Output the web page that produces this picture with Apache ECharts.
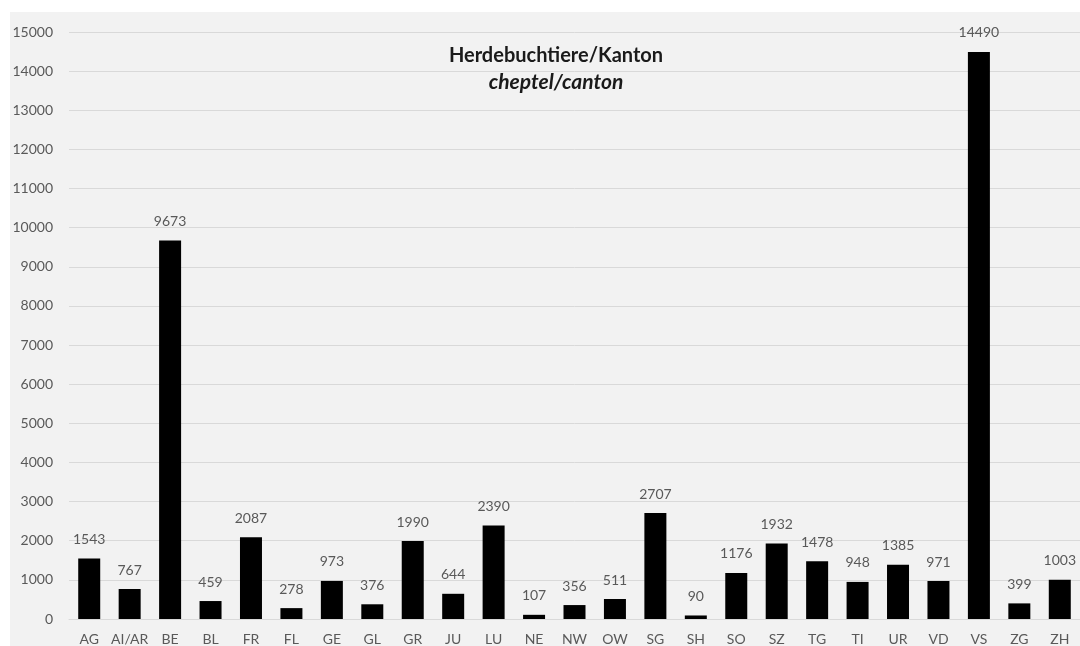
<!DOCTYPE html>
<html>
<head>
<meta charset="utf-8">
<script src="https://cdn.jsdelivr.net/npm/echarts@6/dist/echarts.min.js"></script>
<style>
  html, body { margin: 0; padding: 0; background: #fff; }
  #main { width: 1080px; height: 646px; }
</style>
</head>
<body>
<div id="main"></div>
<script>
// Kantone
const cantons = ['AG', 'AI/AR', 'BE', 'BL', 'FR', 'FL', 'GE', 'GL', 'GR', 'JU', 'LU', 'NE', 'NW',
  'OW', 'SG', 'SH', 'SO', 'SZ', 'TG', 'TI', 'UR', 'VD', 'VS', 'ZG', 'ZH']
// Herdebuchtiere pro Kanton
const herdCount = [1543, 767, 9673, 459, 2087, 278, 973, 376, 1990, 644, 2390, 107, 356,
  511, 2707, 90, 1176, 1932, 1478, 948, 1385, 971, 14490, 399, 1003]

const titleText = 'Herdebuchtiere/Kanton'
const subtitleText = 'cheptel/canton'

const font = 'Lato, "Open Sans", sans-serif'
const textColor = '#595959'

const chart = echarts.init(document.getElementById('main'))

const option = {
  backgroundColor: '#fff',
  animation: false,
  graphic: [
    {
      type: 'rect',
      z: -100,
      silent: true,
      shape: { x: 10, y: 12, width: 1070, height: 634 },
      style: { fill: '#f2f2f2' }
    }
  ],
  title: {
    text: titleText,
    subtext: subtitleText,
    left: 551,
    top: 41,
    textAlign: 'center',
    itemGap: 6,
    textStyle: { fontFamily: font, fontSize: 20, fontWeight: 'bold', color: '#1a1a1a' },
    subtextStyle: { fontFamily: font, fontSize: 21, fontWeight: 'bold', fontStyle: 'italic', color: '#1a1a1a' }
  },
  grid: {
    left: 69,
    top: 32,
    width: 1014,
    height: 588,
    containLabel: false
  },
  xAxis: {
    type: 'category',
    data: cantons,
    axisTick: { show: false },
    axisLine: { lineStyle: { color: '#d9d9d9', width: 1 } },
    axisLabel: { color: textColor, fontFamily: font, fontSize: 14, margin: 13, interval: 0 }
  },
  yAxis: {
    type: 'value',
    min: 0,
    max: 15000,
    interval: 1000,
    axisLine: { show: false },
    axisTick: { show: false },
    splitLine: { lineStyle: { color: '#d9d9d9', width: 1 } },
    axisLabel: { color: textColor, fontFamily: font, fontSize: 14, margin: 16, formatter: v => String(v) }
  },
  series: [
    {
      name: 'Herdebuchtiere',
      type: 'bar',
      data: herdCount,
      barWidth: 22,
      itemStyle: { color: '#000' },
      label: {
        show: true,
        position: 'top',
        distance: 12,
        color: textColor,
        fontFamily: font,
        fontSize: 14
      }
    }
  ]
}

chart.setOption(option)
</script>
</body>
</html>
